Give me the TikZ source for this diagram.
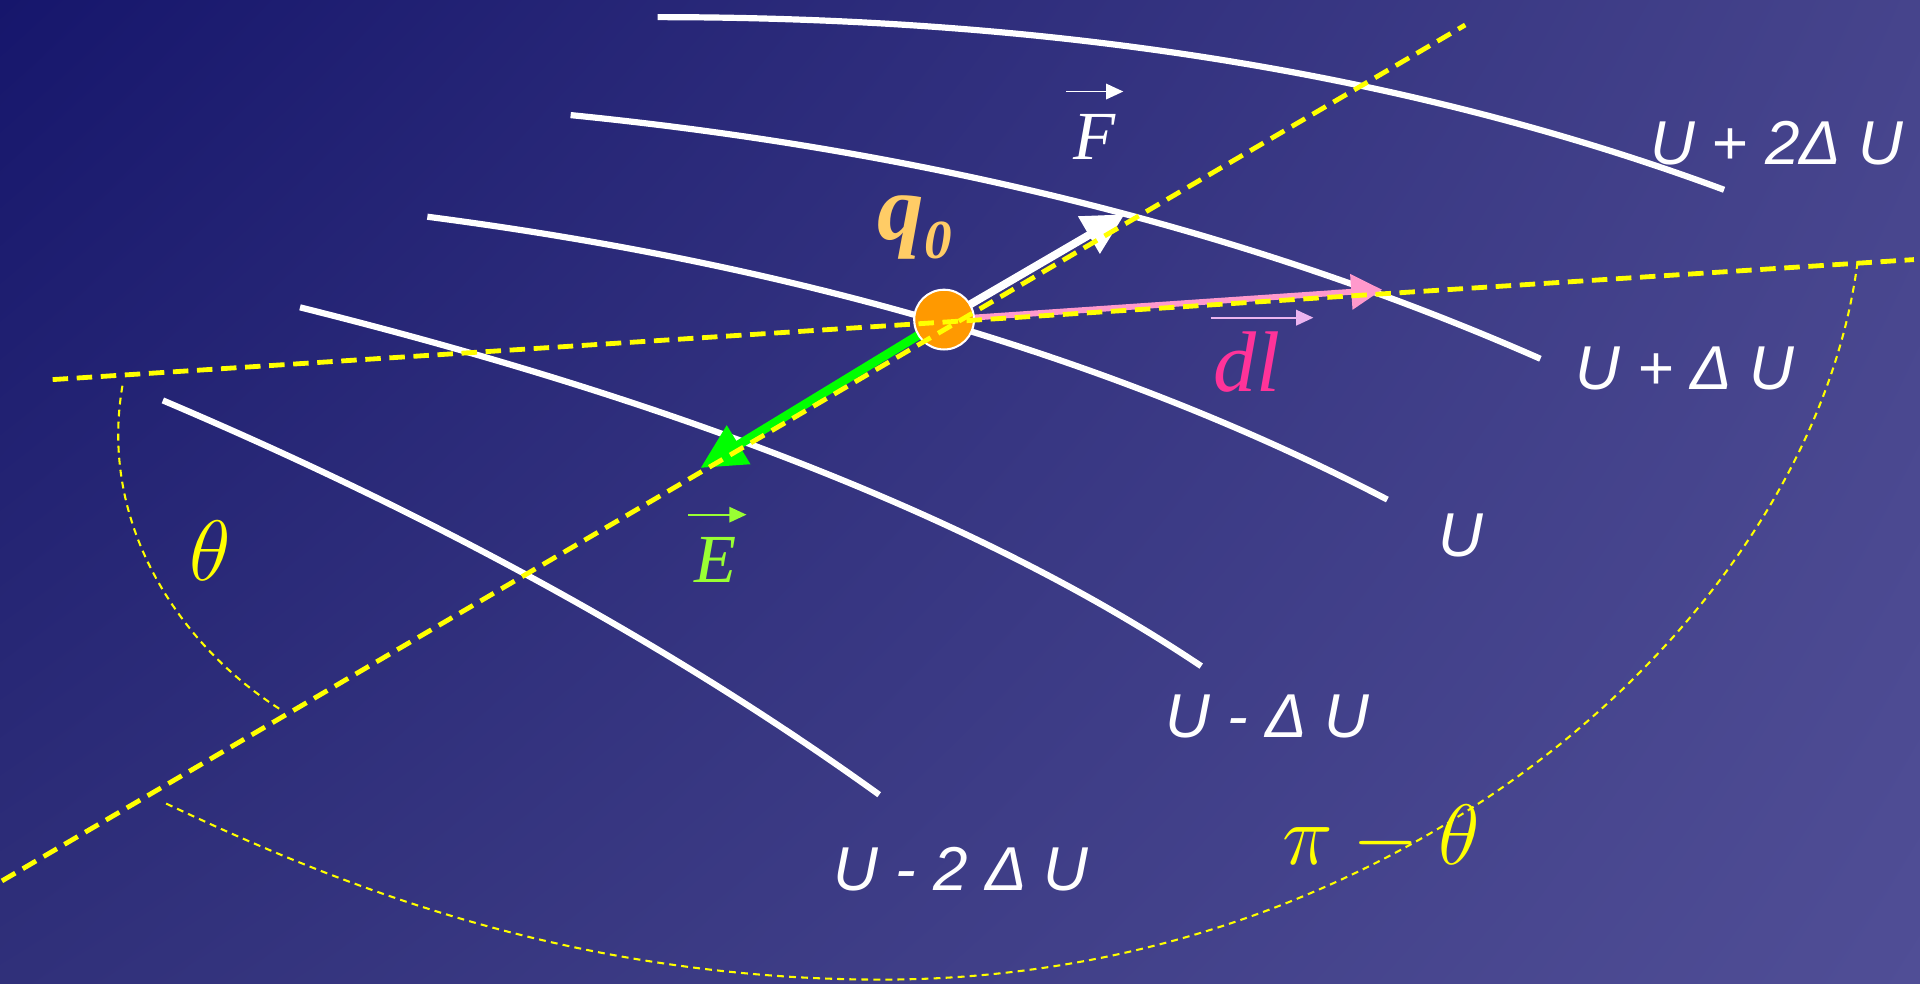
\documentclass[tikz,border=0pt]{standalone}
\usepackage{fontspec}
\setmainfont{Liberation Serif}
\setsansfont{Liberation Sans}
\usepackage{amsmath}
\usepackage{tikz}
\usetikzlibrary{arrows.meta, calc, shadings}
\definecolor{bgtl}{RGB}{22, 22, 108}
\definecolor{bgtr}{RGB}{70, 68, 140}
\definecolor{bgbl}{RGB}{48, 48, 122}
\definecolor{bgbr}{RGB}{80, 78, 150}
\definecolor{guideyel}{RGB}{255, 255, 0}
\definecolor{qorange}{RGB}{255, 153, 0}
\definecolor{qgold}{RGB}{255, 204, 102}
\definecolor{egreen}{RGB}{0, 255, 0}
\definecolor{elabgreen}{RGB}{153, 255, 51}
\definecolor{dlpink}{RGB}{255, 153, 204}
\definecolor{dlarrowpink}{RGB}{235, 180, 240}
\definecolor{dlmagenta}{RGB}{255, 51, 153}

\begin{document}
\begin{tikzpicture}[
  equip/.style={draw=white, line width=1.8pt},
  guide/.style={draw=guideyel, line width=1.4pt, dash pattern=on 4.5pt off 2.5pt},
  anglearc/.style={draw=guideyel, line width=0.6pt, dash pattern=on 2pt off 1.5pt},
  ulab/.style={text=white, inner sep=0pt, font=\fontsize{18}{20}\selectfont\sffamily\itshape},
  vlab/.style={inner sep=0pt, font=\fontsize{20}{23}\selectfont\itshape},
  vecbar/.style={line width=0.5pt, -{Triangle[length=5pt, width=4.5pt]}},
  charge/.style={circle, fill=qorange, draw=white, line width=0.6pt, minimum size=0.61cm, inner sep=0pt}
]
  \shade[upper left=bgtl, upper right=bgtr, lower left=bgbl, lower right=bgbr] (0,0) rectangle (19.6,10.0375);
  \useasboundingbox (0,0) rectangle (19.6,10.0375);

  \draw[equip] (6.7125,9.8625) .. controls (10.796,9.8625) and (14.425,9.275) .. (17.6,8.1);
  \draw[equip] (5.825,8.8625) .. controls (9.491,8.496) and (12.791,7.666) .. (15.725,6.375);
  \draw[equip] (4.3625,7.825) .. controls (8.1375,7.334) and (11.404,6.371) .. (14.1625,4.9375);
  \draw[equip] (3.0625,6.9) .. controls (7.034,5.909) and (10.1,4.6875) .. (12.2625,3.2375);
  \draw[equip] (1.6625,5.95) .. controls (4.466,4.759) and (6.904,3.416) .. (8.975,1.925);

  \draw[anglearc] (1.25,6.1) .. controls (1.0,4.65) and (1.875,3.4125) .. (2.875,2.7875);
  \draw[anglearc] (18.9625,7.3625) .. controls (18.5,3.7875) and (14.375,0.0375) .. (9.0,0.0375)
    .. controls (5.625,0.0375) and (3.125,1.1625) .. (1.6625,1.85);

  \coordinate (q0pos) at (9.6375,6.775);
  \coordinate (ftip) at (11.48,7.85);
  \coordinate (etip) at (7.15,5.26);
  \coordinate (dltip) at (14.11,7.08);
  \draw[white, line width=2.3pt, -{Triangle[length=12pt, width=12pt]}] (q0pos) -- (ftip);
  \draw[egreen, line width=2.6pt, -{Triangle[length=13pt, width=12.5pt]}] (q0pos) -- (etip);
  \draw[dlpink, line width=1.7pt, -{Triangle[length=9pt, width=10pt]}] (q0pos) -- (dltip);
  \node[charge] (q0) at (q0pos) {};

  \coordinate (g1a) at (0.5375,6.1625);
  \coordinate (g1b) at (19.5375,7.3875);
  \coordinate (g2a) at (0.02,1.045);
  \coordinate (g2b) at (14.9575,9.7825);
  \draw[guide] (g1a) -- (g1b);
  \draw[guide] (g2a) -- (g2b);

  \node[ulab] (u2p) at (18.1375,8.575) {U + 2Δ U};
  \node[ulab] (u1p) at (17.2,6.275) {U + Δ U};
  \node[ulab] (u0) at (14.9125,4.575) {U};
  \node[ulab] (u1m) at (12.9375,2.725) {U - Δ U};
  \node[ulab] (u2m) at (9.8125,1.1625) {U - 2 Δ U};

  \node[vlab, text=white] (flab) at (11.175,8.6375) {F};
  \draw[vecbar, white] ([xshift=-2pt, yshift=6.5pt]flab.north west) -- ([xshift=2pt, yshift=6.5pt]flab.north east);
  \node[vlab, text=elabgreen] (elab) at (7.3,4.325) {E};
  \draw[vecbar, elabgreen] ([xshift=-1.5pt, yshift=6.3pt]elab.north west) -- ([xshift=2.8pt, yshift=6.3pt]elab.north east);
  \node[vlab, text=dlmagenta, font=\fontsize{25}{28}\selectfont\itshape] (dllab) at (12.725,6.3375) {dl};
  \draw[vecbar, dlarrowpink] ([xshift=-0.5pt, yshift=4pt]dllab.north west) -- ([xshift=9.5pt, yshift=4pt]dllab.north east);

  \node[text=qgold, inner sep=0pt, font=\fontsize{27}{30}\selectfont\bfseries\itshape] (q0lab) at (9.3375,7.7125)
    {q\raisebox{-0.2em}{\fontsize{16}{16}\selectfont 0}};
  \node[text=guideyel, inner sep=0pt, font=\fontsize{27}{30}\selectfont] (thlab) at (2.15,4.4125) {$\theta$};
  \node[text=guideyel, inner sep=0pt, font=\fontsize{25}{28}\selectfont] (pthlab) at (14.1,1.475) {$\pi-\theta$};
\end{tikzpicture}
\end{document}
